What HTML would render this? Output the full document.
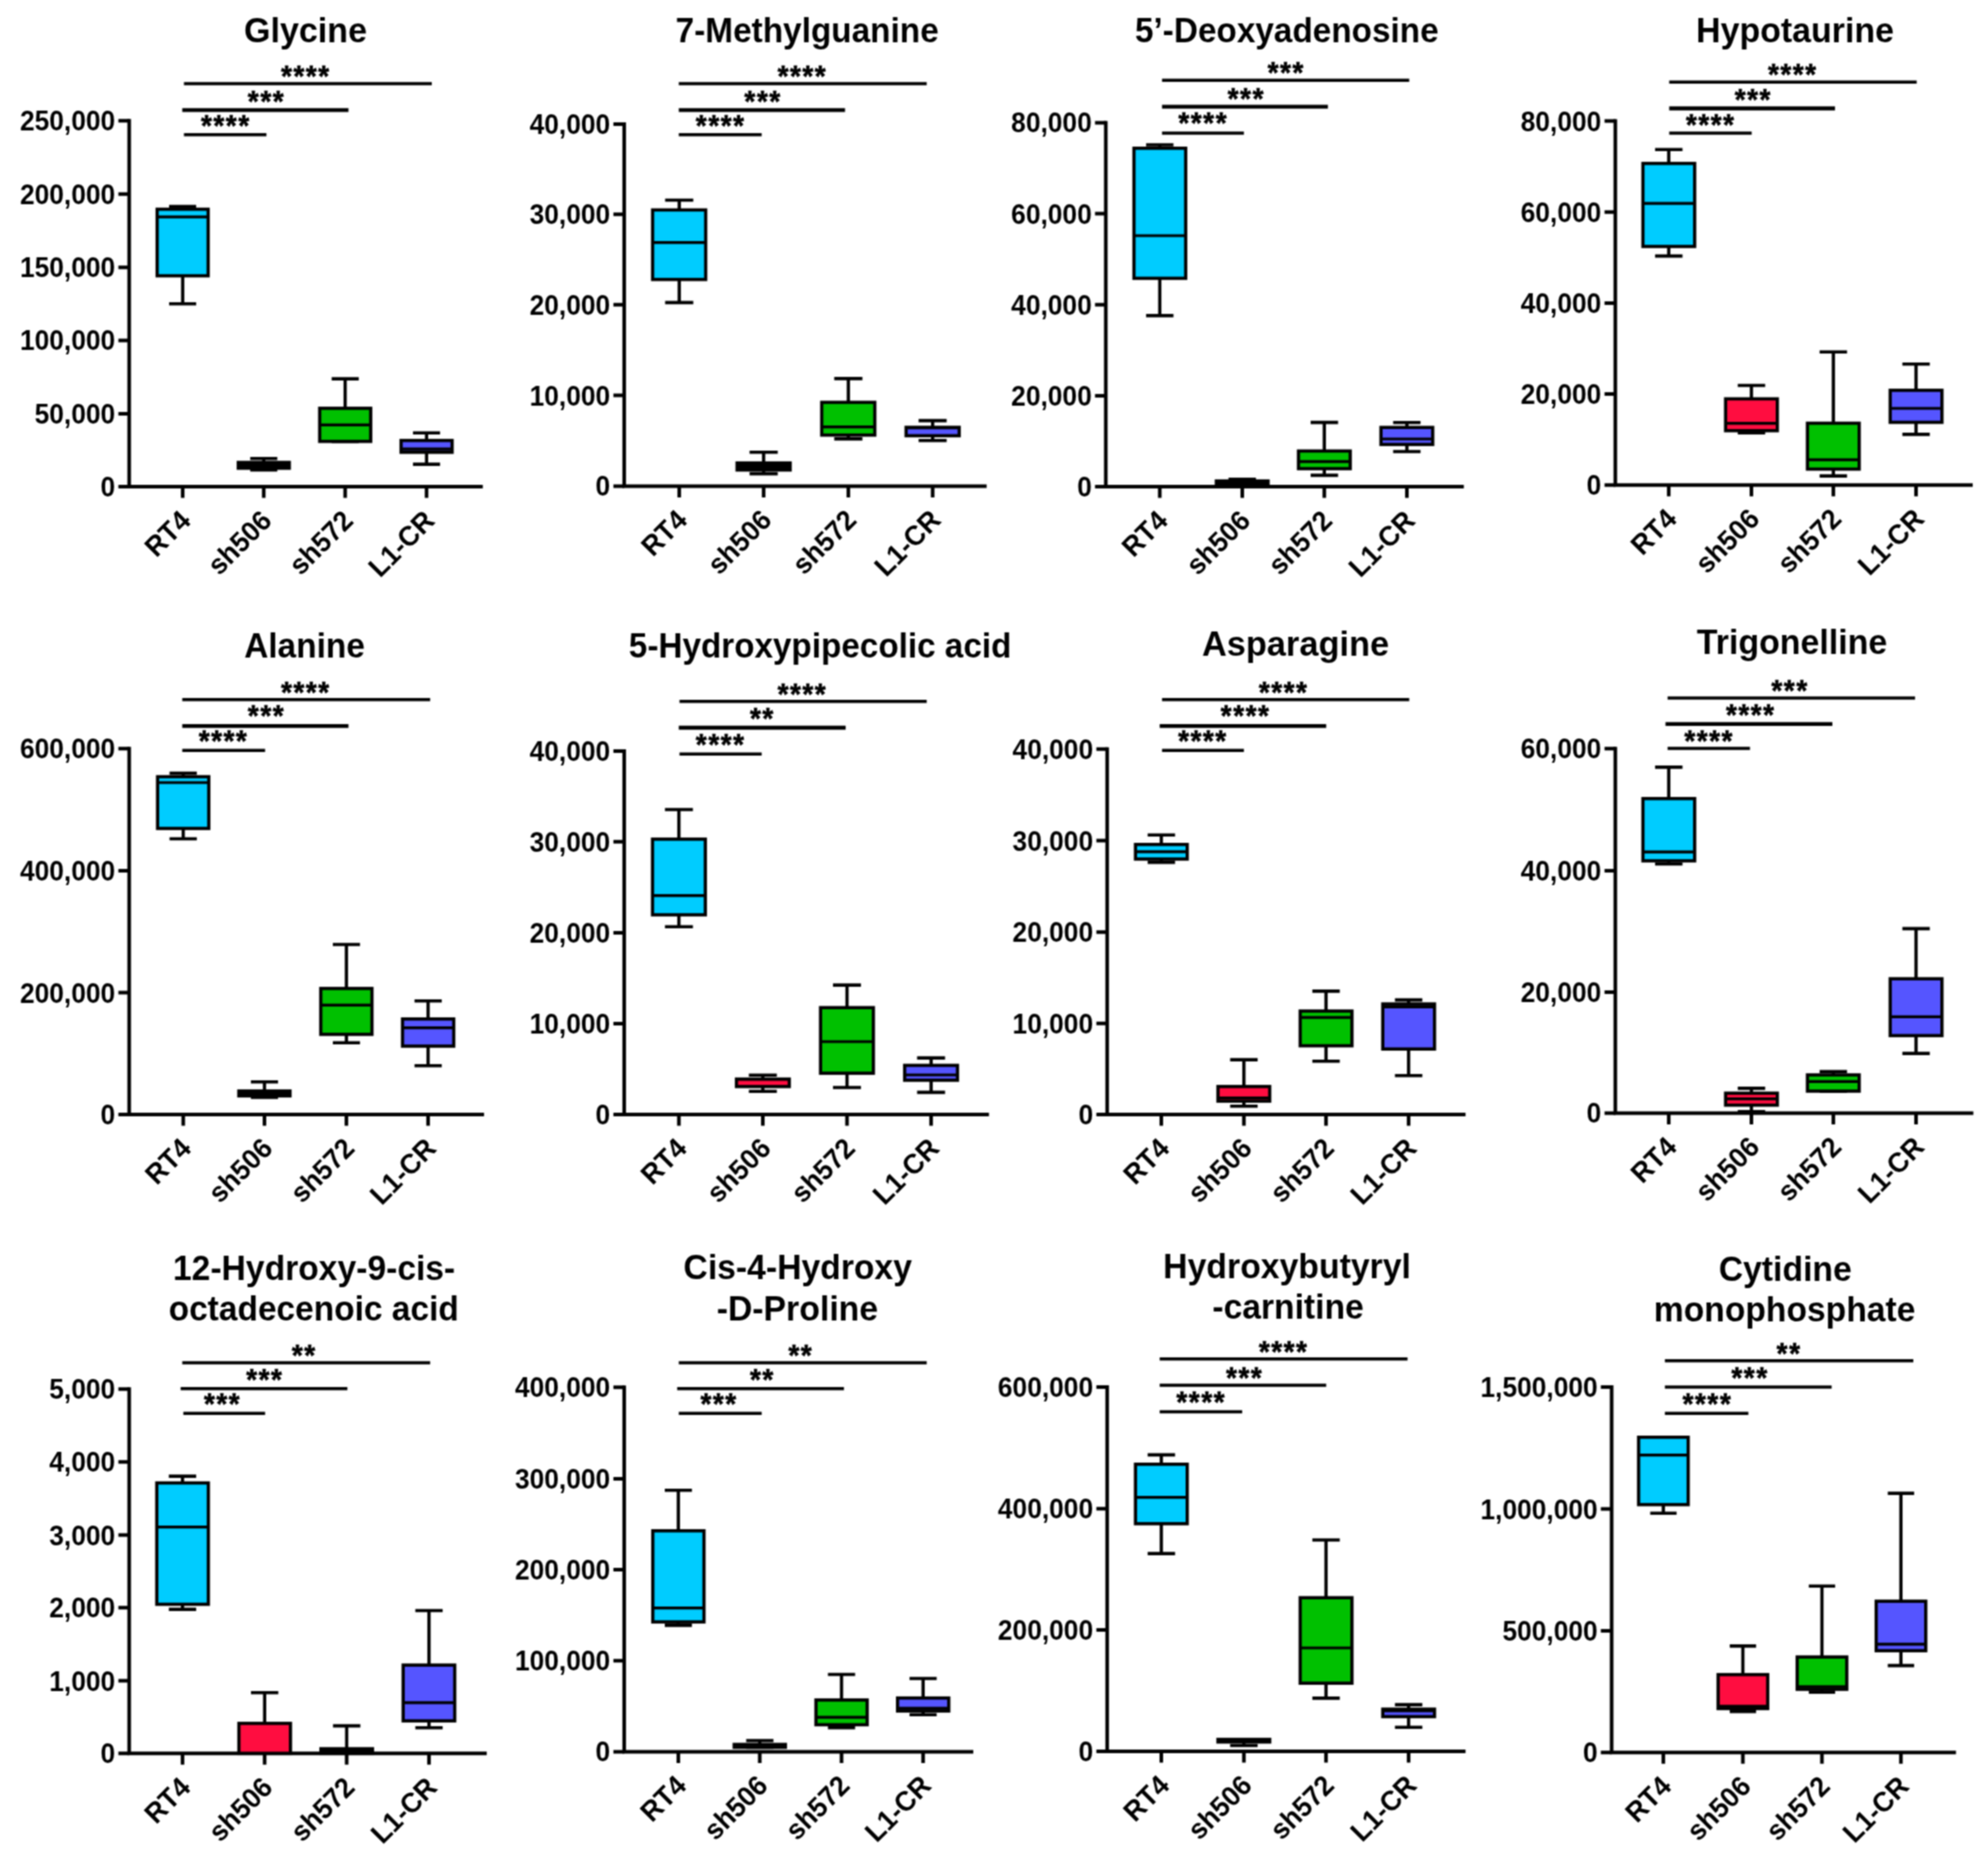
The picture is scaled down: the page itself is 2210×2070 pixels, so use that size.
<!DOCTYPE html>
<html><head><meta charset="utf-8"><title>Metabolite box plots</title>
<style>
html,body{margin:0;padding:0;background:#fff}
svg{display:block}
text{font-family:"Liberation Sans",Arial,Helvetica,sans-serif;font-weight:bold;fill:#000}
.t{font-size:37.6px;text-anchor:middle}
.y{font-size:29.3px;text-anchor:end}
.x{font-size:30px;text-anchor:end;font-kerning:none}
.s{font-size:31px;text-anchor:middle;letter-spacing:1.75px;stroke:#000;stroke-width:.6}
.a{fill:none;stroke:#000;stroke-width:4}
.b{fill:none;stroke:#000;stroke-width:3.5}
.b2{stroke-width:4.3}
.w{fill:none;stroke:#000;stroke-width:3.6}
.m{fill:none;stroke:#000;stroke-width:3.2}
.r{stroke:#000;stroke-width:3.6}
</style></head><body>
<svg width="2210" height="2070" viewBox="0 0 2210 2070">
<defs><filter id="soft" color-interpolation-filters="sRGB" x="0" y="0" width="2210" height="2070" filterUnits="userSpaceOnUse"><feConvolveMatrix order="3" kernelMatrix="1 2 1 2 4 2 1 2 1" divisor="16" edgeMode="duplicate" preserveAlpha="true"/></filter></defs>
<rect width="2210" height="2070" fill="#fff"/>
<g filter="url(#soft)">
<rect width="2210" height="2070" fill="#fff"/>
<g>
<text class="t" transform="translate(339.6 46.7) scale(1.0066 1.04)">Glycine</text>
<path class="a" d="M143.6 132.2V541.1H536.7"/>
<path class="a" d="M131.6 134.2H143.6M131.6 215.7H143.6M131.6 297.2H143.6M131.6 378.4H143.6M131.6 459.9H143.6M131.6 541.1H143.6M203.1 541.1V553.6M293.2 541.1V553.6M383.7 541.1V553.6M474.2 541.1V553.6"/>
<text class="y" transform="translate(128 145.2) scale(1 1.04)">250,000</text>
<text class="y" transform="translate(128 226.7) scale(1 1.04)">200,000</text>
<text class="y" transform="translate(128 308.2) scale(1 1.04)">150,000</text>
<text class="y" transform="translate(128 389.4) scale(1 1.04)">100,000</text>
<text class="y" transform="translate(128 470.9) scale(1 1.04)">50,000</text>
<text class="y" transform="translate(128 552.1) scale(1 1.04)">0</text>
<text class="x" transform="translate(213.8 580.7) rotate(-45) scale(1 1.04)">RT4</text>
<text class="x" transform="translate(303.9 580.7) rotate(-45) scale(1 1.04)">sh506</text>
<text class="x" transform="translate(394.4 580.7) rotate(-45) scale(1 1.04)">sh572</text>
<text class="x" transform="translate(484.9 580.7) rotate(-45) scale(1 1.04)">L1-CR</text>
<path class="b" d="M204.5 93H480"/>
<path class="b b2" d="M202.6 122.3H387.4"/>
<path class="b" d="M204.5 149.7H296.2"/>
<text class="s" transform="translate(340 95.8) scale(1 1.08)">****</text>
<text class="s" transform="translate(296.3 123.6) scale(1 1.08)">***</text>
<text class="s" transform="translate(251.1 150.7) scale(1 1.08)">****</text>
<path class="w" d="M203.1 229.6V232.6M203.1 306.6V337.8M188 229.6H218.1M188 337.8H218.1"/>
<rect class="r" x="174.7" y="232.6" width="56.7" height="74" fill="#00CCFF"/>
<path class="m" d="M174.7 241.2H231.4"/>
<path class="w" d="M293.2 509.7V514.1M293.2 520.5V522.5M278.2 509.7H308.3M278.2 522.5H308.3"/>
<rect class="r" x="264.9" y="514.1" width="56.7" height="6.4" fill="#000"/>
<path class="m" d="M264.9 517.3H321.6"/>
<path class="w" d="M383.7 421.1V453.9M383.7 490.7V490.7M368.7 421.1H398.8M368.7 490.7H398.8"/>
<rect class="r" x="355.4" y="453.9" width="56.7" height="36.8" fill="#00C000"/>
<path class="m" d="M355.4 472.4H412.1"/>
<path class="w" d="M474.2 481.3V489.7M474.2 502.8V516.1M459.1 481.3H489.2M459.1 516.1H489.2"/>
<rect class="r" x="445.9" y="489.7" width="56.7" height="13.1" fill="#5555FF"/>
<path class="m" d="M445.9 499.2H502.5"/>
</g>
<g>
<text class="t" transform="translate(897.3 46.7) scale(0.9859 1.04)">7-Methylguanine</text>
<path class="a" d="M693.9 135.9V540.4H1096.8"/>
<path class="a" d="M681.9 137.9H693.9M681.9 238.3H693.9M681.9 338.7H693.9M681.9 439.5H693.9M681.9 540.4H693.9M755.1 540.4V552.9M848.9 540.4V552.9M943.1 540.4V552.9M1036.8 540.4V552.9"/>
<text class="y" transform="translate(678.3 148.9) scale(1 1.04)">40,000</text>
<text class="y" transform="translate(678.3 249.3) scale(1 1.04)">30,000</text>
<text class="y" transform="translate(678.3 349.7) scale(1 1.04)">20,000</text>
<text class="y" transform="translate(678.3 450.5) scale(1 1.04)">10,000</text>
<text class="y" transform="translate(678.3 551.3) scale(1 1.04)">0</text>
<text class="x" transform="translate(765.8 580) rotate(-45) scale(1 1.04)">RT4</text>
<text class="x" transform="translate(859.6 580) rotate(-45) scale(1 1.04)">sh506</text>
<text class="x" transform="translate(953.8 580) rotate(-45) scale(1 1.04)">sh572</text>
<text class="x" transform="translate(1047.5 580) rotate(-45) scale(1 1.04)">L1-CR</text>
<path class="b" d="M754.6 93H1030.2"/>
<path class="b b2" d="M754.6 122.3H939.4"/>
<path class="b" d="M754.6 149.7H846.7"/>
<text class="s" transform="translate(892 95.8) scale(1 1.08)">****</text>
<text class="s" transform="translate(848.3 123.6) scale(1 1.08)">***</text>
<text class="s" transform="translate(801.2 150.7) scale(1 1.08)">****</text>
<path class="w" d="M755.1 222.5V233.4M755.1 310.7V336.4M739.4 222.5H770.7M739.4 336.4H770.7"/>
<rect class="r" x="725.5" y="233.4" width="59" height="77.3" fill="#00CCFF"/>
<path class="m" d="M725.5 269.6H784.6"/>
<path class="w" d="M848.9 502.8V514.7M848.9 522.5V526.6M833.3 502.8H864.6M833.3 526.6H864.6"/>
<rect class="r" x="819.4" y="514.7" width="59" height="7.8" fill="#000"/>
<path class="m" d="M819.4 518.7H878.4"/>
<path class="w" d="M943.1 420.9V447.3M943.1 483.7V487.9M927.4 420.9H958.7M927.4 487.9H958.7"/>
<rect class="r" x="913.5" y="447.3" width="59" height="36.4" fill="#00C000"/>
<path class="m" d="M913.5 474.6H972.6"/>
<path class="w" d="M1036.8 467.6V475.1M1036.8 484.3V489.7M1021.2 467.6H1052.4M1021.2 489.7H1052.4"/>
<rect class="r" x="1007.3" y="475.1" width="59" height="9.3" fill="#5555FF"/>
<path class="m" d="M1007.3 475.7H1066.3"/>
</g>
<g>
<text class="t" transform="translate(1430.5 46.7) scale(0.9852 1.04)">5’-Deoxyadenosine</text>
<path class="a" d="M1229.3 134.4V541.1H1627.3"/>
<path class="a" d="M1217.3 136.4H1229.3M1217.3 237.6H1229.3M1217.3 338.7H1229.3M1217.3 439.9H1229.3M1217.3 541.1H1229.3M1289.3 541.1V553.6M1381 541.1V553.6M1472.2 541.1V553.6M1564 541.1V553.6"/>
<text class="y" transform="translate(1213.7 147.4) scale(1 1.04)">80,000</text>
<text class="y" transform="translate(1213.7 248.6) scale(1 1.04)">60,000</text>
<text class="y" transform="translate(1213.7 349.7) scale(1 1.04)">40,000</text>
<text class="y" transform="translate(1213.7 450.9) scale(1 1.04)">20,000</text>
<text class="y" transform="translate(1213.7 552.1) scale(1 1.04)">0</text>
<text class="x" transform="translate(1300 580.7) rotate(-45) scale(1 1.04)">RT4</text>
<text class="x" transform="translate(1391.7 580.7) rotate(-45) scale(1 1.04)">sh506</text>
<text class="x" transform="translate(1482.9 580.7) rotate(-45) scale(1 1.04)">sh572</text>
<text class="x" transform="translate(1574.7 580.7) rotate(-45) scale(1 1.04)">L1-CR</text>
<path class="b" d="M1291.8 89.3H1566.6"/>
<path class="b b2" d="M1291.8 118.6H1476.2"/>
<path class="b" d="M1291.8 147.9H1382.8"/>
<text class="s" transform="translate(1429.9 92.1) scale(1 1.08)">***</text>
<text class="s" transform="translate(1385.5 121.4) scale(1 1.08)">***</text>
<text class="s" transform="translate(1337.6 148.4) scale(1 1.08)">****</text>
<path class="w" d="M1289.3 161V164.8M1289.3 309.4V350.9M1274.1 161H1304.5M1274.1 350.9H1304.5"/>
<rect class="r" x="1260.6" y="164.8" width="57.5" height="144.6" fill="#00CCFF"/>
<path class="m" d="M1260.6 262H1318"/>
<path class="w" d="M1381 532.9V534.7M1381 539.3V539.3M1365.7 532.9H1396.2M1365.7 539.3H1396.2"/>
<rect class="r" x="1352.2" y="534.7" width="57.5" height="4.5" fill="#000"/>
<path class="m" d="M1352.2 537H1409.7"/>
<path class="w" d="M1472.2 469.6V501.4M1472.2 521V528.4M1457 469.6H1487.5M1457 528.4H1487.5"/>
<rect class="r" x="1443.5" y="501.4" width="57.5" height="19.6" fill="#00C000"/>
<path class="m" d="M1443.5 513.1H1501"/>
<path class="w" d="M1564 469.8V475.2M1564 494.1V502M1548.7 469.8H1579.2M1548.7 502H1579.2"/>
<rect class="r" x="1535.2" y="475.2" width="57.5" height="18.9" fill="#5555FF"/>
<path class="m" d="M1535.2 488H1592.7"/>
</g>
<g>
<text class="t" transform="translate(1995.5 46.7) scale(1.0024 1.04)">Hypotaurine</text>
<path class="a" d="M1795.7 132.5V539.2H2193"/>
<path class="a" d="M1783.7 134.5H1795.7M1783.7 235.7H1795.7M1783.7 336.9H1795.7M1783.7 438.1H1795.7M1783.7 539.2H1795.7M1855.1 539.2V551.7M1947 539.2V551.7M2038.1 539.2V551.7M2130 539.2V551.7"/>
<text class="y" transform="translate(1780.1 145.5) scale(1 1.04)">80,000</text>
<text class="y" transform="translate(1780.1 246.7) scale(1 1.04)">60,000</text>
<text class="y" transform="translate(1780.1 347.9) scale(1 1.04)">40,000</text>
<text class="y" transform="translate(1780.1 449.1) scale(1 1.04)">20,000</text>
<text class="y" transform="translate(1780.1 550.2) scale(1 1.04)">0</text>
<text class="x" transform="translate(1865.8 578.8) rotate(-45) scale(1 1.04)">RT4</text>
<text class="x" transform="translate(1957.7 578.8) rotate(-45) scale(1 1.04)">sh506</text>
<text class="x" transform="translate(2048.8 578.8) rotate(-45) scale(1 1.04)">sh572</text>
<text class="x" transform="translate(2140.7 578.8) rotate(-45) scale(1 1.04)">L1-CR</text>
<path class="b" d="M1855.6 91.2H2130.7"/>
<path class="b b2" d="M1855.6 120.5H2039.9"/>
<path class="b" d="M1855.6 147.9H1947.3"/>
<text class="s" transform="translate(1993 93.9) scale(1 1.08)">****</text>
<text class="s" transform="translate(1949.2 121.7) scale(1 1.08)">***</text>
<text class="s" transform="translate(1901.8 150.3) scale(1 1.08)">****</text>
<path class="w" d="M1855.1 166.2V181.7M1855.1 274V284.6M1839.9 166.2H1870.4M1839.9 284.6H1870.4"/>
<rect class="r" x="1826.4" y="181.7" width="57.5" height="92.3" fill="#00CCFF"/>
<path class="m" d="M1826.4 226.2H1883.9"/>
<path class="w" d="M1947 428.5V443.4M1947 478.8V481.1M1931.8 428.5H1962.3M1931.8 481.1H1962.3"/>
<rect class="r" x="1918.3" y="443.4" width="57.5" height="35.4" fill="#FF0D40"/>
<path class="m" d="M1918.3 470.7H1975.8"/>
<path class="w" d="M2038.1 391.3V470.5M2038.1 521.4V529.1M2022.8 391.3H2053.3M2022.8 529.1H2053.3"/>
<rect class="r" x="2009.3" y="470.5" width="57.5" height="51" fill="#00C000"/>
<path class="m" d="M2009.3 511.1H2066.8"/>
<path class="w" d="M2130 404.8V433.9M2130 469.6V482.9M2114.8 404.8H2145.3M2114.8 482.9H2145.3"/>
<rect class="r" x="2101.3" y="433.9" width="57.5" height="35.6" fill="#5555FF"/>
<path class="m" d="M2101.3 454H2158.8"/>
</g>
<g>
<text class="t" transform="translate(338.5 731.1) scale(0.9887 1.04)">Alanine</text>
<path class="a" d="M143.6 830.3V1238.9H538.1"/>
<path class="a" d="M131.6 832.3H143.6M131.6 968H143.6M131.6 1103.6H143.6M131.6 1238.9H143.6M203.7 1238.9V1251.4M294 1238.9V1251.4M385.1 1238.9V1251.4M475.9 1238.9V1251.4"/>
<text class="y" transform="translate(128 843.3) scale(1 1.04)">600,000</text>
<text class="y" transform="translate(128 979) scale(1 1.04)">400,000</text>
<text class="y" transform="translate(128 1114.6) scale(1 1.04)">200,000</text>
<text class="y" transform="translate(128 1249.9) scale(1 1.04)">0</text>
<text class="x" transform="translate(214.4 1278.5) rotate(-45) scale(1 1.04)">RT4</text>
<text class="x" transform="translate(304.7 1278.5) rotate(-45) scale(1 1.04)">sh506</text>
<text class="x" transform="translate(395.8 1278.5) rotate(-45) scale(1 1.04)">sh572</text>
<text class="x" transform="translate(486.6 1278.5) rotate(-45) scale(1 1.04)">L1-CR</text>
<path class="b" d="M202.6 777.8H478.2"/>
<path class="b b2" d="M202.6 807.1H387.4"/>
<path class="b" d="M202.6 834.2H294.7"/>
<text class="s" transform="translate(340 780.6) scale(1 1.08)">****</text>
<text class="s" transform="translate(296.3 807.3) scale(1 1.08)">***</text>
<text class="s" transform="translate(248.5 835.1) scale(1 1.08)">****</text>
<path class="w" d="M203.7 859.6V863.5M203.7 921V932.5M188.5 859.6H218.8M188.5 932.5H218.8"/>
<rect class="r" x="175.2" y="863.5" width="56.9" height="57.5" fill="#00CCFF"/>
<path class="m" d="M175.2 870H232.1"/>
<path class="w" d="M294 1202.7V1212.9M294 1218.3V1219.9M278.9 1202.7H309.1M278.9 1219.9H309.1"/>
<rect class="r" x="265.5" y="1212.9" width="56.9" height="5.4" fill="#000"/>
<path class="m" d="M265.5 1215.6H322.4"/>
<path class="w" d="M385.1 1050V1098.9M385.1 1149.9V1159.2M370 1050H400.2M370 1159.2H400.2"/>
<rect class="r" x="356.6" y="1098.9" width="56.9" height="51" fill="#00C000"/>
<path class="m" d="M356.6 1117.4H413.6"/>
<path class="w" d="M475.9 1112.7V1132.8M475.9 1163V1184.7M460.8 1112.7H491.1M460.8 1184.7H491.1"/>
<rect class="r" x="447.5" y="1132.8" width="56.9" height="30.2" fill="#5555FF"/>
<path class="m" d="M447.5 1142.7H504.4"/>
</g>
<g>
<text class="t" transform="translate(911.7 731.1) scale(0.9833 1.04)">5-Hydroxypipecolic acid</text>
<path class="a" d="M693.9 832.9V1238.9H1099.4"/>
<path class="a" d="M681.9 834.9H693.9M681.9 935.7H693.9M681.9 1036.9H693.9M681.9 1138.1H693.9M681.9 1238.9H693.9M754.7 1238.9V1251.4M848 1238.9V1251.4M941.6 1238.9V1251.4M1035.1 1238.9V1251.4"/>
<text class="y" transform="translate(678.3 845.9) scale(1 1.04)">40,000</text>
<text class="y" transform="translate(678.3 946.7) scale(1 1.04)">30,000</text>
<text class="y" transform="translate(678.3 1047.9) scale(1 1.04)">20,000</text>
<text class="y" transform="translate(678.3 1149.1) scale(1 1.04)">10,000</text>
<text class="y" transform="translate(678.3 1249.9) scale(1 1.04)">0</text>
<text class="x" transform="translate(765.4 1278.5) rotate(-45) scale(1 1.04)">RT4</text>
<text class="x" transform="translate(858.7 1278.5) rotate(-45) scale(1 1.04)">sh506</text>
<text class="x" transform="translate(952.3 1278.5) rotate(-45) scale(1 1.04)">sh572</text>
<text class="x" transform="translate(1045.8 1278.5) rotate(-45) scale(1 1.04)">L1-CR</text>
<path class="b" d="M755.4 779.7H1030.2"/>
<path class="b b2" d="M754.6 809H940.1"/>
<path class="b" d="M755.4 838.3H846.7"/>
<text class="s" transform="translate(892 783.2) scale(1 1.08)">****</text>
<text class="s" transform="translate(847.5 809.9) scale(1 1.08)">**</text>
<text class="s" transform="translate(801.2 838.8) scale(1 1.08)">****</text>
<path class="w" d="M754.7 900V932.9M754.7 1017.1V1030.2M739.2 900H770.3M739.2 1030.2H770.3"/>
<rect class="r" x="725.4" y="932.9" width="58.7" height="84.1" fill="#00CCFF"/>
<path class="m" d="M725.4 995.6H784.1"/>
<path class="w" d="M848 1195.3V1199.6M848 1207.9V1213.3M832.5 1195.3H863.6M832.5 1213.3H863.6"/>
<rect class="r" x="818.7" y="1199.6" width="58.7" height="8.3" fill="#FF0D40"/>
<path class="m" d="M818.7 1199.6H877.4"/>
<path class="w" d="M941.6 1095.1V1120.2M941.6 1193V1209M926 1095.1H957.1M926 1209H957.1"/>
<rect class="r" x="912.2" y="1120.2" width="58.7" height="72.9" fill="#00C000"/>
<path class="m" d="M912.2 1158H970.9"/>
<path class="w" d="M1035.1 1176.1V1184.4M1035.1 1200.9V1214.4M1019.5 1176.1H1050.6M1019.5 1214.4H1050.6"/>
<rect class="r" x="1005.7" y="1184.4" width="58.7" height="16.5" fill="#5555FF"/>
<path class="m" d="M1005.7 1195H1064.4"/>
</g>
<g>
<text class="t" transform="translate(1440.2 728.9) scale(1.0160 1.04)">Asparagine</text>
<path class="a" d="M1230.8 830.7V1238.9H1629.2"/>
<path class="a" d="M1218.8 832.7H1230.8M1218.8 934.6H1230.8M1218.8 1036.2H1230.8M1218.8 1137.7H1230.8M1218.8 1238.9H1230.8M1291 1238.9V1251.4M1382.8 1238.9V1251.4M1474.1 1238.9V1251.4M1565.9 1238.9V1251.4"/>
<text class="y" transform="translate(1215.2 843.7) scale(1 1.04)">40,000</text>
<text class="y" transform="translate(1215.2 945.6) scale(1 1.04)">30,000</text>
<text class="y" transform="translate(1215.2 1047.2) scale(1 1.04)">20,000</text>
<text class="y" transform="translate(1215.2 1148.7) scale(1 1.04)">10,000</text>
<text class="y" transform="translate(1215.2 1249.9) scale(1 1.04)">0</text>
<text class="x" transform="translate(1301.7 1278.5) rotate(-45) scale(1 1.04)">RT4</text>
<text class="x" transform="translate(1393.5 1278.5) rotate(-45) scale(1 1.04)">sh506</text>
<text class="x" transform="translate(1484.8 1278.5) rotate(-45) scale(1 1.04)">sh572</text>
<text class="x" transform="translate(1576.6 1278.5) rotate(-45) scale(1 1.04)">L1-CR</text>
<path class="b" d="M1291.8 777.8H1566.6"/>
<path class="b b2" d="M1289.2 807.1H1474.3"/>
<path class="b" d="M1291.8 834.2H1382.8"/>
<text class="s" transform="translate(1427 780.6) scale(1 1.08)">****</text>
<text class="s" transform="translate(1384.7 807.3) scale(1 1.08)">****</text>
<text class="s" transform="translate(1337.3 835.1) scale(1 1.08)">****</text>
<path class="w" d="M1291 928.2V938.8M1291 955V958.6M1275.8 928.2H1306.3M1275.8 958.6H1306.3"/>
<rect class="r" x="1262.3" y="938.8" width="57.5" height="16.2" fill="#00CCFF"/>
<path class="m" d="M1262.3 946.9H1319.8"/>
<path class="w" d="M1382.8 1178.1V1207.9M1382.8 1224.1V1229.8M1367.5 1178.1H1398.1M1367.5 1229.8H1398.1"/>
<rect class="r" x="1354" y="1207.9" width="57.5" height="16.2" fill="#FF0D40"/>
<path class="m" d="M1354 1220.5H1411.6"/>
<path class="w" d="M1474.1 1101.9V1124M1474.1 1162.6V1179.7M1458.9 1101.9H1489.4M1458.9 1179.7H1489.4"/>
<rect class="r" x="1445.4" y="1124" width="57.5" height="38.6" fill="#00C000"/>
<path class="m" d="M1445.4 1131.2H1502.9"/>
<path class="w" d="M1565.9 1111.6V1116.1M1565.9 1166.2V1195.7M1550.7 1111.6H1581.2M1550.7 1195.7H1581.2"/>
<rect class="r" x="1537.2" y="1116.1" width="57.5" height="50.1" fill="#5555FF"/>
<path class="m" d="M1537.2 1119.3H1594.7"/>
</g>
<g>
<text class="t" transform="translate(1992.2 726.7) scale(1.0037 1.04)">Trigonelline</text>
<path class="a" d="M1795.7 830.3V1237.4H2193.7"/>
<path class="a" d="M1783.7 832.3H1795.7M1783.7 968H1795.7M1783.7 1102.9H1795.7M1783.7 1237.4H1795.7M1855.1 1237.4V1249.9M1947 1237.4V1249.9M2038.1 1237.4V1249.9M2130 1237.4V1249.9"/>
<text class="y" transform="translate(1780.1 843.3) scale(1 1.04)">60,000</text>
<text class="y" transform="translate(1780.1 979) scale(1 1.04)">40,000</text>
<text class="y" transform="translate(1780.1 1113.9) scale(1 1.04)">20,000</text>
<text class="y" transform="translate(1780.1 1248.4) scale(1 1.04)">0</text>
<text class="x" transform="translate(1865.8 1277) rotate(-45) scale(1 1.04)">RT4</text>
<text class="x" transform="translate(1957.7 1277) rotate(-45) scale(1 1.04)">sh506</text>
<text class="x" transform="translate(2048.8 1277) rotate(-45) scale(1 1.04)">sh572</text>
<text class="x" transform="translate(2140.7 1277) rotate(-45) scale(1 1.04)">L1-CR</text>
<path class="b" d="M1853.8 776H2128.9"/>
<path class="b b2" d="M1851.5 804.9H2037"/>
<path class="b" d="M1853.8 832H1945.4"/>
<text class="s" transform="translate(1990 778.8) scale(1 1.08)">***</text>
<text class="s" transform="translate(1946.3 805.5) scale(1 1.08)">****</text>
<text class="s" transform="translate(1900 835.1) scale(1 1.08)">****</text>
<path class="w" d="M1855.1 852.9V887.8M1855.1 957.1V960.5M1839.9 852.9H1870.4M1839.9 960.5H1870.4"/>
<rect class="r" x="1826.4" y="887.8" width="57.5" height="69.2" fill="#00CCFF"/>
<path class="m" d="M1826.4 947.1H1883.9"/>
<path class="w" d="M1947 1209.9V1215.3M1947 1228.6V1235.9M1931.8 1209.9H1962.3M1931.8 1235.9H1962.3"/>
<rect class="r" x="1918.3" y="1215.3" width="57.5" height="13.3" fill="#FF0D40"/>
<path class="m" d="M1918.3 1221.7H1975.8"/>
<path class="w" d="M2038.1 1191.2V1195M2038.1 1213.1V1213.1M2022.8 1191.2H2053.3M2022.8 1213.1H2053.3"/>
<rect class="r" x="2009.3" y="1195" width="57.5" height="18" fill="#00C000"/>
<path class="m" d="M2009.3 1202.3H2066.8"/>
<path class="w" d="M2130 1032.4V1088.1M2130 1151.3V1171.1M2114.8 1032.4H2145.3M2114.8 1171.1H2145.3"/>
<rect class="r" x="2101.3" y="1088.1" width="57.5" height="63.2" fill="#5555FF"/>
<path class="m" d="M2101.3 1130.3H2158.8"/>
</g>
<g>
<text class="t" transform="translate(349.2 1422.6) scale(0.9945 1.04)">12-Hydroxy-9-cis-</text>
<text class="t" transform="translate(348.7 1467.8) scale(0.9902 1.04)">octadecenoic acid</text>
<path class="a" d="M143.6 1542.2V1949.3H541.1"/>
<path class="a" d="M131.6 1544.2H143.6M131.6 1625.3H143.6M131.6 1706.5H143.6M131.6 1787.3H143.6M131.6 1868.5H143.6M131.6 1949.3H143.6M202.9 1949.3V1961.8M294.2 1949.3V1961.8M385.4 1949.3V1961.8M476.9 1949.3V1961.8"/>
<text class="y" transform="translate(128 1555.2) scale(1 1.04)">5,000</text>
<text class="y" transform="translate(128 1636.3) scale(1 1.04)">4,000</text>
<text class="y" transform="translate(128 1717.5) scale(1 1.04)">3,000</text>
<text class="y" transform="translate(128 1798.3) scale(1 1.04)">2,000</text>
<text class="y" transform="translate(128 1879.5) scale(1 1.04)">1,000</text>
<text class="y" transform="translate(128 1960.3) scale(1 1.04)">0</text>
<text class="x" transform="translate(213.6 1988.9) rotate(-45) scale(1 1.04)">RT4</text>
<text class="x" transform="translate(304.9 1988.9) rotate(-45) scale(1 1.04)">sh506</text>
<text class="x" transform="translate(396.1 1988.9) rotate(-45) scale(1 1.04)">sh572</text>
<text class="x" transform="translate(487.6 1988.9) rotate(-45) scale(1 1.04)">L1-CR</text>
<path class="b" d="M202.6 1514.9H478.2"/>
<path class="b" d="M200.8 1543.8H386.2"/>
<path class="b" d="M203.8 1571.2H294.7"/>
<text class="s" transform="translate(338.2 1517.7) scale(1 1.08)">**</text>
<text class="s" transform="translate(294.4 1545.1) scale(1 1.08)">***</text>
<text class="s" transform="translate(247.4 1572.2) scale(1 1.08)">***</text>
<path class="w" d="M202.9 1641.1V1648.6M202.9 1783.5V1789.1M187.7 1641.1H218.1M187.7 1789.1H218.1"/>
<rect class="r" x="174.3" y="1648.6" width="57.3" height="134.9" fill="#00CCFF"/>
<path class="m" d="M174.3 1697.7H231.6"/>
<path class="w" d="M294.2 1881.8V1915.9M294.2 1949.3V1949.3M279 1881.8H309.4M279 1949.3H309.4"/>
<rect class="r" x="265.6" y="1915.9" width="57.3" height="33.4" fill="#FF0D40"/>
<path class="m" d="M265.6 1949.3H322.9"/>
<path class="w" d="M385.4 1918.6V1944.1M385.4 1949.3V1949.3M370.2 1918.6H400.6M370.2 1949.3H400.6"/>
<rect class="r" x="356.8" y="1944.1" width="57.3" height="5.2" fill="#000"/>
<path class="m" d="M356.8 1946.5H414.1"/>
<path class="w" d="M476.9 1790.5V1851.1M476.9 1913.2V1920.8M461.7 1790.5H492.1M461.7 1920.8H492.1"/>
<rect class="r" x="448.2" y="1851.1" width="57.3" height="62" fill="#5555FF"/>
<path class="m" d="M448.2 1892.9H505.5"/>
</g>
<g>
<text class="t" transform="translate(886.8 1421.9) scale(0.9964 1.04)">Cis-4-Hydroxy</text>
<text class="t" transform="translate(886.4 1467.8) scale(0.9998 1.04)">-D-Proline</text>
<path class="a" d="M693.9 1540.3V1947.4H1082"/>
<path class="a" d="M681.9 1542.3H693.9M681.9 1643.9H693.9M681.9 1745.1H693.9M681.9 1846.2H693.9M681.9 1947.4H693.9M754.1 1947.4V1959.9M844.6 1947.4V1959.9M935.5 1947.4V1959.9M1026.2 1947.4V1959.9"/>
<text class="y" transform="translate(678.3 1553.3) scale(1 1.04)">400,000</text>
<text class="y" transform="translate(678.3 1654.9) scale(1 1.04)">300,000</text>
<text class="y" transform="translate(678.3 1756) scale(1 1.04)">200,000</text>
<text class="y" transform="translate(678.3 1857.2) scale(1 1.04)">100,000</text>
<text class="y" transform="translate(678.3 1958.4) scale(1 1.04)">0</text>
<text class="x" transform="translate(764.8 1987) rotate(-45) scale(1 1.04)">RT4</text>
<text class="x" transform="translate(855.3 1987) rotate(-45) scale(1 1.04)">sh506</text>
<text class="x" transform="translate(946.2 1987) rotate(-45) scale(1 1.04)">sh572</text>
<text class="x" transform="translate(1036.9 1987) rotate(-45) scale(1 1.04)">L1-CR</text>
<path class="b" d="M754.6 1514.9H1030.2"/>
<path class="b" d="M752.8 1543.8H938.2"/>
<path class="b" d="M754.6 1571.2H846.7"/>
<text class="s" transform="translate(890.2 1517.7) scale(1 1.08)">**</text>
<text class="s" transform="translate(847.5 1545.1) scale(1 1.08)">**</text>
<text class="s" transform="translate(799.4 1572.2) scale(1 1.08)">***</text>
<path class="w" d="M754.1 1656.7V1701.8M754.1 1803.1V1806.9M739 1656.7H769.2M739 1806.9H769.2"/>
<rect class="r" x="725.7" y="1701.8" width="56.9" height="101.3" fill="#00CCFF"/>
<path class="m" d="M725.7 1787.7H782.6"/>
<path class="w" d="M844.6 1935V1939.3M844.6 1942.5V1942.5M829.5 1935H859.8M829.5 1942.5H859.8"/>
<rect class="r" x="816.2" y="1939.3" width="56.9" height="3.2" fill="#000"/>
<path class="m" d="M816.2 1940.9H873.1"/>
<path class="w" d="M935.5 1861.5V1889.9M935.5 1917.4V1920.6M920.4 1861.5H950.6M920.4 1920.6H950.6"/>
<rect class="r" x="907.1" y="1889.9" width="56.9" height="27.5" fill="#00C000"/>
<path class="m" d="M907.1 1909.1H964"/>
<path class="w" d="M1026.2 1866V1887.7M1026.2 1902.1V1906.2M1011.1 1866H1041.3M1011.1 1906.2H1041.3"/>
<rect class="r" x="997.8" y="1887.7" width="56.9" height="14.4" fill="#5555FF"/>
<path class="m" d="M997.8 1899.2H1054.7"/>
</g>
<g>
<text class="t" transform="translate(1430.8 1420.8) scale(0.9985 1.04)">Hydroxybutyryl</text>
<text class="t" transform="translate(1431.9 1466) scale(0.9947 1.04)">-carnitine</text>
<path class="a" d="M1230.8 1540V1947H1629.2"/>
<path class="a" d="M1218.8 1542H1230.8M1218.8 1677.2H1230.8M1218.8 1812.1H1230.8M1218.8 1947H1230.8M1291 1947V1959.5M1382.8 1947V1959.5M1474.1 1947V1959.5M1565.9 1947V1959.5"/>
<text class="y" transform="translate(1215.2 1552.9) scale(1 1.04)">600,000</text>
<text class="y" transform="translate(1215.2 1688.2) scale(1 1.04)">400,000</text>
<text class="y" transform="translate(1215.2 1823.1) scale(1 1.04)">200,000</text>
<text class="y" transform="translate(1215.2 1958) scale(1 1.04)">0</text>
<text class="x" transform="translate(1301.7 1986.6) rotate(-45) scale(1 1.04)">RT4</text>
<text class="x" transform="translate(1393.5 1986.6) rotate(-45) scale(1 1.04)">sh506</text>
<text class="x" transform="translate(1484.8 1986.6) rotate(-45) scale(1 1.04)">sh572</text>
<text class="x" transform="translate(1576.6 1986.6) rotate(-45) scale(1 1.04)">L1-CR</text>
<path class="b" d="M1289.2 1510.8H1564.7"/>
<path class="b" d="M1289.2 1540.1H1474.3"/>
<path class="b" d="M1289.2 1569.4H1380.9"/>
<text class="s" transform="translate(1427 1513.6) scale(1 1.08)">****</text>
<text class="s" transform="translate(1383.6 1542.9) scale(1 1.08)">***</text>
<text class="s" transform="translate(1335.4 1570.3) scale(1 1.08)">****</text>
<path class="w" d="M1291 1617.4V1627.8M1291 1693.9V1727.1M1275.8 1617.4H1306.3M1275.8 1727.1H1306.3"/>
<rect class="r" x="1262.3" y="1627.8" width="57.5" height="66.1" fill="#00CCFF"/>
<path class="m" d="M1262.3 1664.6H1319.8"/>
<path class="w" d="M1382.8 1933.7V1933.7M1382.8 1936.6V1940.5M1367.5 1933.7H1398.1M1367.5 1940.5H1398.1"/>
<rect class="r" x="1354" y="1933.7" width="57.5" height="2.9" fill="#000"/>
<path class="m" d="M1354 1935H1411.6"/>
<path class="w" d="M1474.1 1712V1776.2M1474.1 1871.2V1887.9M1458.9 1712H1489.4M1458.9 1887.9H1489.4"/>
<rect class="r" x="1445.4" y="1776.2" width="57.5" height="95" fill="#00C000"/>
<path class="m" d="M1445.4 1832H1502.9"/>
<path class="w" d="M1565.9 1895.1V1900.1M1565.9 1908.4V1920.2M1550.7 1895.1H1581.2M1550.7 1920.2H1581.2"/>
<rect class="r" x="1537.2" y="1900.1" width="57.5" height="8.3" fill="#5555FF"/>
<path class="m" d="M1537.2 1901.9H1594.7"/>
</g>
<g>
<text class="t" transform="translate(1984.6 1423.7) scale(0.9970 1.04)">Cytidine</text>
<text class="t" transform="translate(1983.9 1468.9) scale(0.9949 1.04)">monophosphate</text>
<path class="a" d="M1791.6 1540V1948.2H2174.4"/>
<path class="a" d="M1779.6 1542H1791.6M1779.6 1677.6H1791.6M1779.6 1812.9H1791.6M1779.6 1948.2H1791.6M1849.1 1948.2V1960.7M1937.5 1948.2V1960.7M2025.4 1948.2V1960.7M2113.2 1948.2V1960.7"/>
<text class="y" transform="translate(1776 1552.9) scale(1 1.04)">1,500,000</text>
<text class="y" transform="translate(1776 1688.6) scale(1 1.04)">1,000,000</text>
<text class="y" transform="translate(1776 1823.9) scale(1 1.04)">500,000</text>
<text class="y" transform="translate(1776 1959.1) scale(1 1.04)">0</text>
<text class="x" transform="translate(1859.8 1987.8) rotate(-45) scale(1 1.04)">RT4</text>
<text class="x" transform="translate(1948.2 1987.8) rotate(-45) scale(1 1.04)">sh506</text>
<text class="x" transform="translate(2036.1 1987.8) rotate(-45) scale(1 1.04)">sh572</text>
<text class="x" transform="translate(2123.9 1987.8) rotate(-45) scale(1 1.04)">L1-CR</text>
<path class="b" d="M1850.8 1512.7H2127"/>
<path class="b" d="M1850.8 1542H2036.2"/>
<path class="b" d="M1850.8 1571.2H1943.6"/>
<text class="s" transform="translate(1988.9 1515.8) scale(1 1.08)">**</text>
<text class="s" transform="translate(1945.5 1543.3) scale(1 1.08)">***</text>
<text class="s" transform="translate(1898.1 1572.2) scale(1 1.08)">****</text>
<path class="w" d="M1849.1 1597.8V1597.8M1849.1 1672.7V1682.2M1834.5 1597.8H1863.8M1834.5 1682.2H1863.8"/>
<rect class="r" x="1821.6" y="1597.8" width="55.1" height="74.9" fill="#00CCFF"/>
<path class="m" d="M1821.6 1617.7H1876.7"/>
<path class="w" d="M1937.5 1829.9V1861.7M1937.5 1899.4V1902.8M1922.9 1829.9H1952.2M1922.9 1902.8H1952.2"/>
<rect class="r" x="1910" y="1861.7" width="55.1" height="37.7" fill="#FF0D40"/>
<path class="m" d="M1910 1896.9H1965.1"/>
<path class="w" d="M2025.4 1763.2V1842.1M2025.4 1878V1881.1M2010.8 1763.2H2040.1M2010.8 1881.1H2040.1"/>
<rect class="r" x="1997.9" y="1842.1" width="55.1" height="35.9" fill="#00C000"/>
<path class="m" d="M1997.9 1875H2053"/>
<path class="w" d="M2113.2 1660.1V1780.1M2113.2 1835.1V1851.6M2098.6 1660.1H2127.9M2098.6 1851.6H2127.9"/>
<rect class="r" x="2085.7" y="1780.1" width="55.1" height="55" fill="#5555FF"/>
<path class="m" d="M2085.7 1827.9H2140.8"/>
</g>
</g>
</svg>
</body></html>
